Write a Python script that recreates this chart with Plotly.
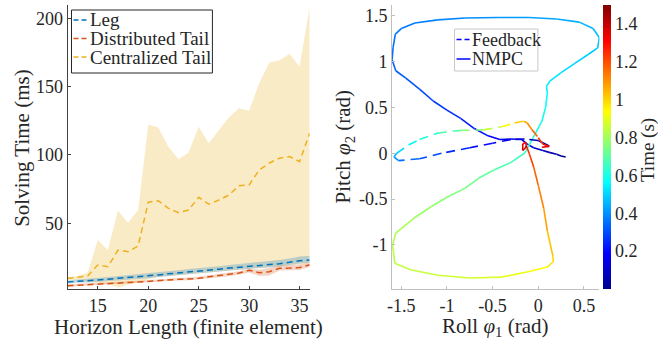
import plotly.graph_objects as go

# ---------------- Data: left plot (solving time) ----------------
horizon = [12, 13, 14, 15, 16, 17, 18, 19, 20, 21, 22, 23, 24, 25, 26, 27, 28, 29, 30, 31, 32, 33, 34, 35, 36]

leg_mean = [7.0, 7.4, 7.8, 8.4, 9.0, 9.8, 10.4, 10.6, 11.2, 12.2, 13.0, 13.6, 14.4, 15.0, 15.6, 16.4, 17.2, 17.8, 18.4, 19.4, 19.8, 20.4, 21.4, 22.6, 23.2]
leg_hi = [8.2, 8.7, 9.2, 9.9, 10.6, 11.5, 12.2, 12.4, 13.1, 14.2, 15.0, 15.6, 16.5, 17.1, 17.8, 18.6, 19.5, 20.2, 20.9, 22.0, 22.5, 23.2, 24.3, 25.6, 26.2]
leg_lo = [6.0, 6.4, 6.7, 7.2, 7.8, 8.5, 9.1, 9.2, 9.8, 10.7, 11.5, 12.1, 12.8, 13.4, 14.0, 14.7, 15.5, 16.0, 16.6, 17.5, 17.9, 18.4, 19.4, 20.5, 21.1]

dist_mean = [4.3, 4.6, 5.0, 5.3, 5.6, 6.0, 6.6, 7.0, 7.6, 8.2, 8.6, 9.0, 9.2, 9.7, 10.8, 11.6, 12.4, 13.6, 15.6, 13.8, 14.6, 17.0, 17.2, 17.6, 19.6]
dist_hi = [5.3, 5.6, 6.0, 6.3, 6.6, 7.0, 7.6, 8.0, 8.6, 9.2, 9.6, 10.0, 10.3, 10.8, 11.9, 12.8, 13.6, 14.9, 16.8, 16.0, 17.5, 19.0, 19.5, 20.0, 21.5]
dist_lo = [3.5, 3.8, 4.2, 4.5, 4.8, 5.2, 5.8, 6.2, 6.8, 7.3, 7.7, 8.1, 8.3, 8.7, 9.8, 10.5, 11.2, 12.3, 14.0, 11.5, 11.8, 15.5, 15.5, 15.8, 18.0]

cent_mean = [9.7, 10.5, 11.4, 19.5, 18.2, 30.4, 29.2, 33.4, 65.4, 66.5, 60.9, 57.8, 59.7, 69.0, 63.9, 67.0, 70.7, 77.5, 78.0, 89.0, 94.1, 97.6, 98.8, 95.1, 115.9]
cent_hi = [10.5, 11.5, 14.0, 37.8, 30.4, 59.2, 50.4, 59.7, 122.0, 120.0, 106.0, 96.8, 101.7, 120.7, 108.5, 118.3, 127.6, 134.2, 132.4, 152.5, 167.6, 169.0, 174.0, 164.6, 208.6]
cent_lo = [8.5, 8.0, 7.5, 6.5, 5.5, 3.0, 5.0, 6.5, 9.0, 10.7, 11.5, 12.1, 12.8, 13.4, 14.0, 14.7, 15.5, 16.0, 16.6, 17.5, 17.9, 18.4, 19.4, 20.5, 21.1]

x_ticks_left = [15, 20, 25, 30, 35]
y_ticks_left = [50, 100, 150, 200]

# ---------------- Data: right plot (phase portrait) ----------------
nmpc_roll = [0.30, 0.25, 0.20, 0.12, 0.05, -0.05, -0.12, -0.18, -0.30, -0.42, -0.55, -0.70, -0.85, -1.00, -1.15,
             -1.30, -1.45, -1.56, -1.60, -1.59, -1.565, -1.50, -1.35, -1.10, -0.80, -0.44, -0.10, 0.20, 0.45,
             0.60, 0.67, 0.65, 0.55, 0.40, 0.25, 0.13, 0.09, 0.10, 0.08, 0.04, -0.04, -0.15, -0.30, -0.48,
             -0.65, -0.80, -1.00, -1.17, -1.35, -1.56, -1.595, -1.57, -1.40, -1.10, -0.75, -0.40, -0.10,
             0.10, 0.165, 0.16, 0.10, 0.06, 0.00, -0.05, -0.10, -0.13, -0.14, -0.17, -0.17, -0.14, -0.13]
nmpc_pitch = [-0.04, -0.03, -0.01, 0.01, 0.03, 0.06, 0.10, 0.15, 0.155, 0.15, 0.19, 0.27, 0.38, 0.47, 0.57,
              0.70, 0.82, 0.90, 1.02, 1.15, 1.30, 1.36, 1.42, 1.455, 1.475, 1.48, 1.48, 1.465, 1.43,
              1.36, 1.26, 1.15, 1.08, 0.98, 0.88, 0.79, 0.73, 0.66, 0.50, 0.35, 0.20, 0.00, -0.10, -0.18,
              -0.27, -0.38, -0.48, -0.58, -0.70, -0.87, -1.00, -1.20, -1.27, -1.33, -1.36, -1.35, -1.29,
              -1.24, -1.18, -1.12, -0.85, -0.60, -0.35, -0.15, 0.00, 0.08, 0.12, 0.10, 0.03, 0.06, 0.08]
nmpc_time = [0.00, 0.02, 0.04, 0.06, 0.08, 0.10, 0.12, 0.14, 0.16, 0.18, 0.20, 0.22, 0.24, 0.26, 0.28,
             0.30, 0.32, 0.33, 0.34, 0.35, 0.36, 0.365, 0.37, 0.38, 0.39, 0.41, 0.42, 0.44, 0.45,
             0.46, 0.47, 0.48, 0.49, 0.50, 0.52, 0.53, 0.54, 0.55, 0.58, 0.60, 0.62, 0.65, 0.67, 0.69,
             0.72, 0.74, 0.76, 0.78, 0.80, 0.82, 0.83, 0.84, 0.85, 0.86, 0.87, 0.89, 0.92,
             0.96, 0.99, 1.00, 1.05, 1.10, 1.15, 1.20, 1.24, 1.27, 1.30, 1.33, 1.36, 1.40, 1.45]

fb_roll = [0.12, 0.06, 0.00, -0.15, -0.30, -0.50, -0.75, -1.06, -1.30, -1.53, -1.58, -1.55, -1.42, -1.30,
           -1.10, -0.85, -0.60, -0.40, -0.26, -0.16, -0.12, -0.07, 0.00, 0.05, 0.12, 0.04]
fb_pitch = [0.08, 0.11, 0.14, 0.155, 0.15, 0.11, 0.06, 0.00, -0.06, -0.08, -0.04, 0.00, 0.09, 0.15,
            0.22, 0.25, 0.255, 0.29, 0.33, 0.35, 0.33, 0.26, 0.17, 0.10, 0.075, 0.065]
fb_time = [0.00, 0.03, 0.06, 0.10, 0.14, 0.18, 0.22, 0.27, 0.32, 0.37, 0.43, 0.48, 0.53, 0.57,
           0.65, 0.72, 0.80, 0.90, 0.98, 1.04, 1.08, 1.13, 1.20, 1.28, 1.32, 1.36]

x_ticks_right = [-1.5, -1, -0.5, 0, 0.5]
x_ticktext_right = ["-1.5", "-1", "-0.5", "0", "0.5"]
y_ticks_right = [-1, -0.5, 0, 0.5, 1, 1.5]
y_ticktext_right = ["-1", "-0.5", "0", "0.5", "1", "1.5"]
cbar_ticks = [0.2, 0.4, 0.6, 0.8, 1.0, 1.2, 1.4]
cbar_ticktext = ["0.2", "0.4", "0.6", "0.8", "1", "1.2", "1.4"]
t_min, t_max = 0.0, 1.5

# ---------------- Styling ----------------
FONT = "Liberation Serif"
TXT = "#262626"
W, H = 658, 339

jet_stops = [(0.0, (0, 0, 143)), (0.125, (0, 0, 255)), (0.375, (0, 255, 255)),
             (0.625, (255, 255, 0)), (0.875, (255, 0, 0)), (1.0, (128, 0, 0))]
jet_scale = [[p, "rgb(%d,%d,%d)" % c] for p, c in jet_stops]


def jet(v):
    v = min(max(v, 0.0), 1.0)
    for (p0, c0), (p1, c1) in zip(jet_stops[:-1], jet_stops[1:]):
        if v <= p1:
            f = (v - p0) / (p1 - p0) if p1 > p0 else 0
            return "rgb(%d,%d,%d)" % tuple(round(a + (b - a) * f) for a, b in zip(c0, c1))
    return "rgb(128,0,0)"


def px_x(p):
    return p / W


def px_y(p):
    return 1 - p / H


fig = go.Figure()

# Left plot bands
bands = [
    (cent_lo, cent_hi, "rgba(237,177,32,0.25)"),
    (leg_lo, leg_hi, "rgba(0,114,189,0.25)"),
    (dist_lo, dist_hi, "rgba(217,83,25,0.25)"),
]
for lo, hi, col in bands:
    fig.add_trace(go.Scatter(x=horizon + horizon[::-1], y=hi + lo[::-1], fill="toself",
                             fillcolor=col, line=dict(width=0), mode="lines",
                             showlegend=False, hoverinfo="skip", xaxis="x", yaxis="y"))

LEG_DASH = "5px,3px"
means = [
    (leg_mean, "rgb(0,114,189)", "Leg"),
    (dist_mean, "rgb(217,83,25)", "Distributed Tail"),
    (cent_mean, "rgb(237,177,32)", "Centralized Tail"),
]
for m, col, name in means:
    fig.add_trace(go.Scatter(x=horizon, y=m, mode="lines", name=name,
                             line=dict(color=col, width=1.5, dash="6px,4px"),
                             showlegend=False, xaxis="x", yaxis="y"))

# Right plot: colour-by-time segments
for rr, pp, tt, dash in [(nmpc_roll, nmpc_pitch, nmpc_time, "solid"),
                         (fb_roll, fb_pitch, fb_time, "9px,6px")]:
    for i in range(len(rr) - 1):
        tm = 0.5 * (tt[i] + tt[i + 1])
        fig.add_trace(go.Scatter(x=[rr[i], rr[i + 1]], y=[pp[i], pp[i + 1]], mode="lines",
                                 line=dict(color=jet((tm - t_min) / (t_max - t_min)), width=1.6, dash=dash),
                                 showlegend=False, hoverinfo="skip", xaxis="x2", yaxis="y2"))

# colorbar carrier
fig.add_trace(go.Scatter(x=[None], y=[None], mode="markers", showlegend=False, hoverinfo="skip",
                         marker=dict(color=[t_min], cmin=t_min, cmax=t_max, colorscale=jet_scale,
                                     showscale=True,
                                     colorbar=dict(x=px_x(603), xanchor="left", y=px_y(147), yanchor="middle",
                                                   thickness=8, thicknessmode="pixels",
                                                   len=284, lenmode="pixels", outlinewidth=0,
                                                   tickvals=cbar_ticks, ticktext=cbar_ticktext,
                                                   ticks="", xpad=0, ypad=0,
                                                   tickfont=dict(family=FONT, size=18, color=TXT))),
                         xaxis="x2", yaxis="y2"))

ydom = [px_y(289), px_y(5)]
axis_common = dict(showgrid=False, zeroline=False, ticks="inside", ticklen=3,
                   tickfont=dict(family=FONT, size=18, color=TXT), showline=True, mirror=False)

fig.update_layout(
    width=W, height=H, margin=dict(l=0, r=0, t=0, b=0),
    paper_bgcolor="white", plot_bgcolor="white", showlegend=False,
    xaxis=dict(domain=[px_x(63), px_x(307)], range=[12, 36], tickvals=x_ticks_left,
               linecolor="#404040", tickcolor="#404040", anchor="y", ticklabelstandoff=0, **axis_common),
    yaxis=dict(domain=ydom, range=[1.9, 209.7], tickvals=y_ticks_left,
               linecolor="#404040", tickcolor="#404040", anchor="x", **axis_common),
    xaxis2=dict(domain=[px_x(390), px_x(599)], range=[-1.601, 0.67], tickvals=x_ticks_right,
                ticktext=x_ticktext_right, linecolor="#c0c0c0", tickcolor="#c0c0c0", anchor="y2",
                ticklabelstandoff=0, **axis_common),
    yaxis2=dict(domain=ydom, range=[-1.48, 1.617], tickvals=y_ticks_right, ticktext=y_ticktext_right,
                linecolor="#c0c0c0", tickcolor="#c0c0c0", anchor="x2", **axis_common),
)

# ---- Legends (drawn as box + samples + text, placed in pixel positions) ----
def add_legend(box, rows, border, fsize):
    x0, y0, x1, y1 = box
    fig.add_shape(type="rect", xref="paper", yref="paper", x0=px_x(x0), x1=px_x(x1),
                  y0=px_y(y1), y1=px_y(y0), line=dict(color=border, width=1), fillcolor="white",
                  layer="above")
    for (label, col, dash, yc, sx0, sx1, tx) in rows:
        fig.add_shape(type="line", xref="paper", yref="paper", x0=px_x(sx0), x1=px_x(sx1),
                      y0=px_y(yc), y1=px_y(yc), line=dict(color=col, width=1.5, dash=dash), layer="above")
        fig.add_annotation(text=label, x=px_x(tx), y=px_y(yc), xref="paper", yref="paper",
                           xanchor="left", yanchor="middle", showarrow=False,
                           font=dict(family=FONT, size=fsize, color=TXT))


add_legend((67, 10, 209, 73),
           [(means[0][2], means[0][1], LEG_DASH, 20, 69, 84, 84),
            (means[1][2], means[1][1], LEG_DASH, 38.5, 69, 84, 84),
            (means[2][2], means[2][1], LEG_DASH, 57, 69, 84, 84)],
           "#262626", 19)
add_legend((453, 29, 537, 71),
           [("Feedback", "rgb(0,0,255)", LEG_DASH, 39.5, 455, 469, 469),
            ("NMPC", "rgb(0,0,255)", "solid", 59, 455, 469, 469)],
           "#c8c8c8", 18)

annots = [
    dict(text="Horizon Length (finite element)", x=px_x(185), y=px_y(327), textangle=0, size=21),
    dict(text="Solving Time (ms)", x=px_x(17), y=px_y(148), textangle=-90, size=21),
    dict(text="Roll <i>φ</i><sub>1</sub> (rad)", x=px_x(494), y=px_y(327), textangle=0, size=21),
    dict(text="Pitch <i>φ</i><sub>2</sub> (rad)", x=px_x(342), y=px_y(147), textangle=-90, size=21),
    dict(text="Time (s)", x=px_x(648), y=px_y(150), textangle=-90, size=19),
]
for a in annots:
    fig.add_annotation(text=a["text"], x=a["x"], y=a["y"], xref="paper", yref="paper",
                       xanchor="center", yanchor="middle", showarrow=False, textangle=a["textangle"],
                       font=dict(family=FONT, size=a["size"], color=TXT))

fig.write_html("out.html")
